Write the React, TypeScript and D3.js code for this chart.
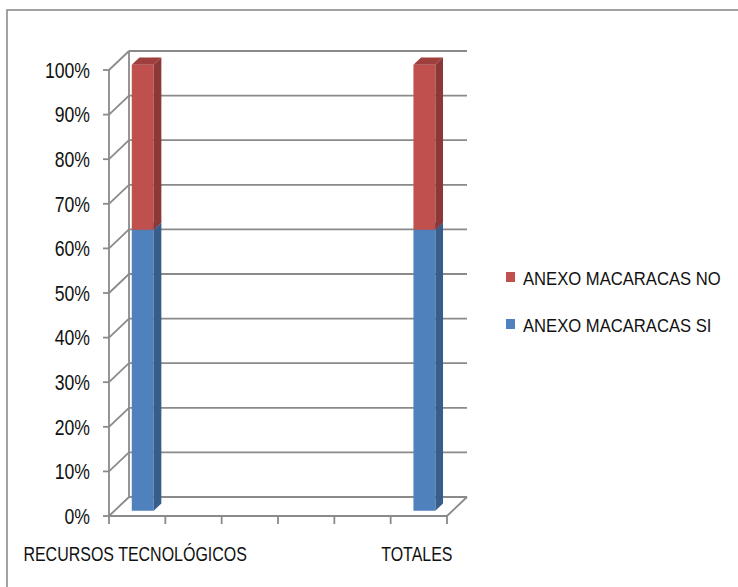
import React from "react";
import * as d3 from "d3";

const categories = ["RECURSOS TECNOLÓGICOS", "", "", "", "", "TOTALES"];
const siValues: (number | null)[] = [0.63, null, null, null, null, 0.63];
const noValues: (number | null)[] = [0.37, null, null, null, null, 0.37];
const seriesNames = ["ANEXO MACARACAS NO", "ANEXO MACARACAS SI"];
const yTicks = [0, 0.1, 0.2, 0.3, 0.4, 0.5, 0.6, 0.7, 0.8, 0.9, 1];

const W = 738;
const H = 587;
const FONT = "'Liberation Sans', Arial, sans-serif";
const GRID = "#8a8a8a";
const TXT = "#111";
const DX = 20; // depth projection
const DY = -19;

const colors = {
  si: { front: "#4F81BD", side: "#385D8A", top: "#426FA6" },
  no: { front: "#C0504D", side: "#8C3836", top: "#9E3F3D" },
};

function CText(props: {
  x: number;
  y: number;
  sx: number;
  size: number;
  anchor?: "start" | "middle" | "end";
  dy?: string;
  children: React.ReactNode;
}) {
  return (
    <text
      transform={`translate(${props.x},${props.y}) scale(${props.sx},1)`}
      textAnchor={props.anchor || "start"}
      dy={props.dy}
      fontSize={props.size}
      fill={TXT}
    >
      {props.children}
    </text>
  );
}

export default function App() {
  const x = d3
    .scaleBand<number>()
    .domain(d3.range(categories.length))
    .range([109, 447])
    .paddingInner(0)
    .paddingOuter(0);
  const y = d3.scaleLinear().domain([0, 1]).range([516, 70]);
  const fmt = d3.format(".0%");

  const P = (px: number, py: number, d: number) => [px + DX * d, py + DY * d];
  const pts = (arr: number[][]) => arr.map((p) => p.join(",")).join(" ");

  const x0 = x.range()[0];
  const x1 = x.range()[1];
  const bw = x.bandwidth();
  const barW = bw * 0.39;
  const d0 = 0.28;
  const d1 = 0.66;

  const box = (cx: number, v0: number, v1: number, c: { front: string; side: string; top: string }, key: string) => {
    const l = cx - barW / 2;
    const r = cx + barW / 2;
    const yb = y(v0);
    const yt = y(v1);
    const f = [P(l, yb, d0), P(r, yb, d0), P(r, yt, d0), P(l, yt, d0)];
    const s = [P(r, yb, d0), P(r, yb, d1), P(r, yt, d1), P(r, yt, d0)];
    const t = [P(l, yt, d0), P(r, yt, d0), P(r, yt, d1), P(l, yt, d1)];
    return (
      <g key={key}>
        <polygon points={pts(f)} fill={c.front} />
        <polygon points={pts(s)} fill={c.side} />
        <polygon points={pts(t)} fill={c.top} />
      </g>
    );
  };

  return (
    <svg
      width={W}
      height={H}
      style={{ position: "absolute", left: 0, top: 0, display: "block", background: "#fff" }}
      fontFamily={FONT}
    >
      {/* outer border */}
      <rect x={7} y={10} width={W} height={H} fill="none" stroke="#8c8c8c" strokeWidth={1.6} />

      {/* back wall gridlines */}
      {yTicks.map((t) => {
        const a = P(x0, y(t), 1);
        const b = P(x1, y(t), 1);
        return <line key={"g" + t} x1={a[0]} y1={a[1]} x2={b[0]} y2={b[1]} stroke={GRID} strokeWidth={1.8} />;
      })}
      {/* left wall back edge */}
      {(() => {
        const a = P(x0, y(0), 1);
        const b = P(x0, y(1), 1);
        return <line x1={a[0]} y1={a[1]} x2={b[0]} y2={b[1]} stroke={GRID} strokeWidth={1.8} />;
      })()}
      {/* left wall diagonals */}
      {yTicks.map((t) => {
        const a = P(x0, y(t), 0);
        const b = P(x0, y(t), 1);
        return <line key={"d" + t} x1={a[0]} y1={a[1]} x2={b[0]} y2={b[1]} stroke={GRID} strokeWidth={1.8} />;
      })}
      {/* floor right edge */}
      {(() => {
        const a = P(x1, y(0), 0);
        const b = P(x1, y(0), 1);
        return <line x1={a[0]} y1={a[1]} x2={b[0]} y2={b[1]} stroke={GRID} strokeWidth={1.8} />;
      })()}

      {/* bars */}
      {categories.map((c, i) => {
        const si = siValues[i];
        const no = noValues[i];
        if (si == null || no == null) return null;
        const cx = (x(i) as number) + bw / 2;
        return (
          <g key={"b" + i}>
            {box(cx, 0, si, colors.si, "si")}
            {box(cx, si, si + no, colors.no, "no")}
          </g>
        );
      })}

      {/* front value axis */}
      <line x1={x0} y1={y(0)} x2={x0} y2={y(1)} stroke={GRID} strokeWidth={1.8} />
      {yTicks.map((t) => (
        <g key={"t" + t}>
          <line x1={x0 - 6} y1={y(t)} x2={x0} y2={y(t)} stroke={GRID} strokeWidth={1.8} />
          <CText x={90} y={y(t)} dy="0.36em" anchor="end" size={21.5} sx={0.82}>
            {fmt(t)}
          </CText>
        </g>
      ))}

      {/* category axis */}
      <line x1={x0} y1={y(0)} x2={x1} y2={y(0)} stroke={GRID} strokeWidth={1.8} />
      {d3.range(categories.length + 1).map((i) => {
        const xx = x0 + i * bw;
        return <line key={"c" + i} x1={xx} y1={y(0)} x2={xx} y2={y(0) + 8} stroke={GRID} strokeWidth={1.8} />;
      })}
      {categories.map((c, i) =>
        c ? (
          <CText key={"cl" + i} x={(x(i) as number) + bw / 2 - 2} y={561} anchor="middle" size={20.5} sx={0.78}>
            {c}
          </CText>
        ) : null
      )}

      {/* legend */}
      {seriesNames.map((n, i) => (
        <g key={"l" + i} transform={`translate(506, ${272 + i * 47})`}>
          <rect x={0} y={0} width={9} height={10} fill={i === 0 ? colors.no.front : colors.si.front} />
          <CText x={17} y={13} size={19} sx={0.875}>
            {n}
          </CText>
        </g>
      ))}
    </svg>
  );
}
